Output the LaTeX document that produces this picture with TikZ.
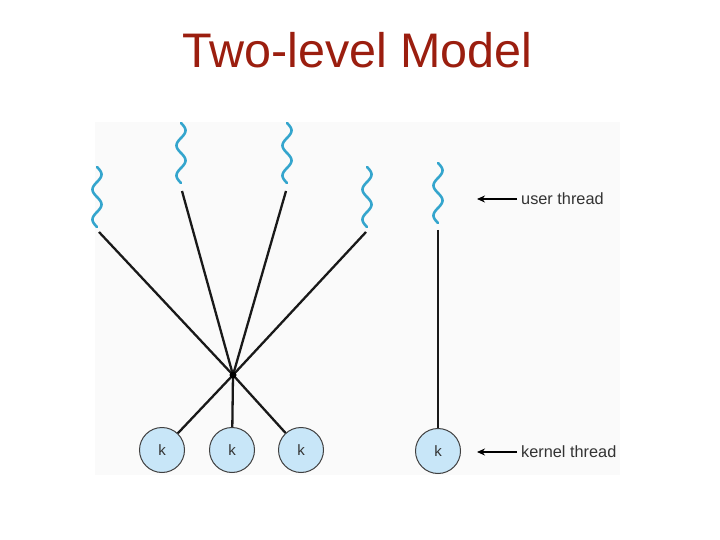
\documentclass[tikz,border=0pt]{standalone}
\usepackage{fontspec}
\setmainfont{Liberation Sans}
\usetikzlibrary{arrows.meta}
\definecolor{titlered}{RGB}{155,30,15}
\definecolor{wavecol}{RGB}{52,165,205}
\definecolor{kfill}{RGB}{200,230,248}
\definecolor{bgpanel}{RGB}{250,250,250}
\tikzset{
  wave/.style={draw=wavecol, line width=2.6pt, line cap=round},
  conn/.style={draw=black!90, line width=2.3pt},
  kern/.style={circle, draw=black!75, line width=1pt, fill=kfill, minimum size=45pt, inner sep=0pt, font=\fontsize{15}{17}\selectfont, text=black!80},
  lbl/.style={anchor=west, inner sep=0pt, font=\fontsize{16.3}{19}\selectfont, text=black!80},
  arr/.style={draw=black, line width=1.8pt, -{Stealth[length=8pt,width=7pt]}}
}
\begin{document}
\begin{tikzpicture}[x=1pt,y=-1pt]
\useasboundingbox (0,0) rectangle (720,540);
\fill[white] (0,0) rectangle (720,540);
\fill[bgpanel] (95,122) rectangle (620,475);
% title
\node (title) [anchor=base, inner sep=0pt, text=titlered, font=\fontsize{48.5}{52}\selectfont] at (357.5,67.5) {Two-level Model};
% waves (user threads)
\foreach \px/\py in {97/167, 181/123, 287/123, 367/167, 438/163}{
  \draw[wave] plot[variable=\t, domain=0:1, samples=80, smooth] ({\px+4.5*sin(720*\t)}, {\py+60*\t});
}
% line ends below the waves
\coordinate (u1) at (99,232);
\coordinate (u2) at (182,191);
\coordinate (u3) at (286,191);
\coordinate (u4) at (366,232);
\coordinate (u5) at (438,230);
% junction
\coordinate (j) at (233,375);
% kernel threads
\node[kern] (k1) at (162,450) {k};
\node[kern] (k2) at (232,450) {k};
\node[kern] (k3) at (301,450) {k};
\node[kern] (k4) at (438,451) {k};
% connectors
\foreach \u in {u1,u2,u3,u4}{ \draw[conn] (\u) -- (j); }
\foreach \k in {k1,k2,k3}{ \draw[conn] (j) -- (\k); }
\fill[black] (j) circle (3.5pt);
\draw[conn] (u5) -- (k4);
% labels
\node[lbl] (ut) at (521,199) {user thread};
\node[lbl] (kt) at (521,452) {kernel thread};
\coordinate (uta) at (477,199);
\coordinate (kta) at (477,452);
\draw[arr] ([xshift=-4pt]ut.west) -- (uta);
\draw[arr] ([xshift=-4pt]kt.west) -- (kta);
\end{tikzpicture}
\end{document}
